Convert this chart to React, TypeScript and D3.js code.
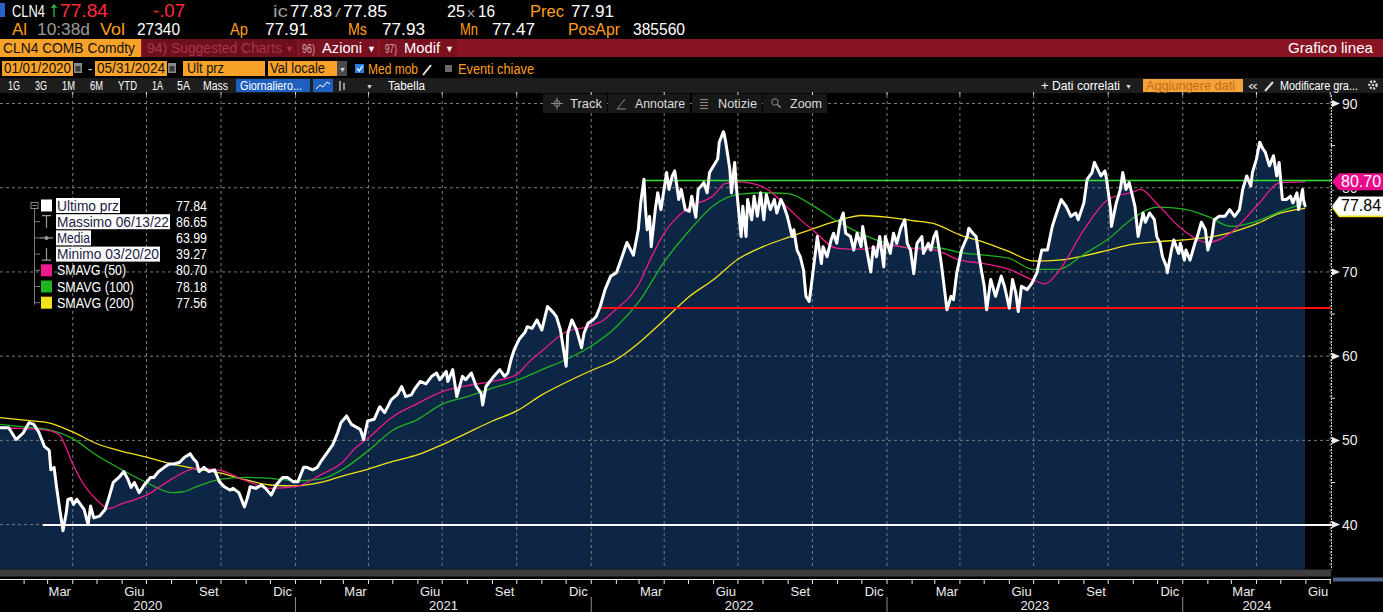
import React, { useEffect } from 'react'
import * as d3 from 'd3'

const WIDTH = 1383
const HEIGHT = 612
const PLOT_TOP = 95
const PLOT_BOTTOM = 569.5
const PLOT_RIGHT = 1331
const UI_FONT = '"Liberation Sans", Arial, sans-serif'

// daily closes, CLN4 Comdty (sampled)
const prices2020: [string, number][] = [
  ['2020-01-02', 51.5], ['2020-01-13', 51.5], ['2020-01-22', 50.1], ['2020-01-31', 50.9],
  ['2020-02-07', 52.1], ['2020-02-13', 51.9], ['2020-02-19', 51.0], ['2020-02-26', 49.3],
  ['2020-03-03', 48.8], ['2020-03-05', 46.5], ['2020-03-09', 46.8], ['2020-03-12', 44.5],
  ['2020-03-16', 41.8], ['2020-03-20', 39.27], ['2020-03-24', 41.4], ['2020-03-26', 43.0],
  ['2020-03-30', 43.1], ['2020-04-02', 42.4], ['2020-04-06', 43.0], ['2020-04-09', 42.6],
  ['2020-04-15', 41.8], ['2020-04-20', 40.0], ['2020-04-23', 42.2], ['2020-04-27', 40.8],
  ['2020-05-04', 41.0], ['2020-05-11', 41.8], ['2020-05-15', 43.0], ['2020-05-21', 45.0],
  ['2020-05-28', 45.6], ['2020-06-03', 46.3], ['2020-06-08', 45.4], ['2020-06-12', 44.4],
  ['2020-06-16', 45.0], ['2020-06-22', 43.8], ['2020-06-29', 44.8], ['2020-07-06', 45.6],
  ['2020-07-10', 45.6], ['2020-07-16', 46.3], ['2020-07-23', 46.8], ['2020-07-29', 47.2],
  ['2020-08-04', 47.2], ['2020-08-11', 47.4], ['2020-08-17', 48.0], ['2020-08-24', 48.4],
  ['2020-08-28', 47.8], ['2020-09-01', 47.4], ['2020-09-04', 46.3], ['2020-09-10', 46.8],
  ['2020-09-16', 46.3], ['2020-09-23', 46.5], ['2020-09-29', 45.1], ['2020-10-05', 44.5],
  ['2020-10-12', 44.1], ['2020-10-16', 44.3], ['2020-10-23', 43.8], ['2020-10-30', 42.1],
  ['2020-11-03', 43.3], ['2020-11-06', 44.5], ['2020-11-13', 44.3], ['2020-11-20', 44.7],
  ['2020-11-25', 44.3], ['2020-12-02', 43.5], ['2020-12-08', 44.7], ['2020-12-16', 45.6],
  ['2020-12-22', 45.6], ['2020-12-29', 45.1],
]

const prices2021: [string, number][] = [
  ['2021-01-04', 45.1], ['2021-01-11', 46.8], ['2021-01-15', 46.8], ['2021-01-22', 46.5],
  ['2021-01-28', 46.8], ['2021-02-02', 47.6], ['2021-02-08', 48.4], ['2021-02-16', 49.5],
  ['2021-02-22', 50.9], ['2021-02-26', 52.1], ['2021-03-05', 52.9], ['2021-03-11', 51.9],
  ['2021-03-22', 51.3], ['2021-03-26', 50.1], ['2021-03-31', 52.3], ['2021-04-08', 52.5],
  ['2021-04-15', 54.0], ['2021-04-21', 53.3], ['2021-04-29', 54.8], ['2021-05-07', 55.5],
  ['2021-05-12', 56.4], ['2021-05-17', 55.2], ['2021-05-24', 55.4], ['2021-05-28', 56.1],
  ['2021-06-04', 57.0], ['2021-06-11', 56.7], ['2021-06-18', 57.6], ['2021-06-24', 58.0],
  ['2021-06-28', 57.2], ['2021-07-06', 58.2], ['2021-07-08', 57.0], ['2021-07-14', 58.4],
  ['2021-07-19', 55.2], ['2021-07-26', 57.6], ['2021-07-30', 57.2], ['2021-08-06', 58.0],
  ['2021-08-12', 56.4], ['2021-08-18', 55.6], ['2021-08-20', 54.2], ['2021-08-24', 56.4],
  ['2021-09-01', 57.4], ['2021-09-10', 58.4], ['2021-09-16', 57.6], ['2021-09-20', 58.0],
  ['2021-09-24', 59.6], ['2021-09-28', 60.8], ['2021-10-04', 62.0], ['2021-10-11', 62.8],
  ['2021-10-14', 63.5], ['2021-10-20', 63.3], ['2021-10-26', 64.3], ['2021-11-01', 63.1],
  ['2021-11-08', 65.9], ['2021-11-15', 65.2], ['2021-11-19', 64.7], ['2021-11-24', 63.1],
  ['2021-11-29', 60.0], ['2021-12-01', 58.8], ['2021-12-03', 62.7], ['2021-12-08', 64.3],
  ['2021-12-14', 63.1], ['2021-12-20', 61.0], ['2021-12-23', 62.7], ['2021-12-28', 63.9],
]

const prices2022: [string, number][] = [
  ['2022-01-03', 64.3], ['2022-01-07', 64.7], ['2022-01-12', 65.9], ['2022-01-18', 67.9],
  ['2022-01-25', 69.5], ['2022-02-01', 69.9], ['2022-02-08', 71.8], ['2022-02-14', 73.5],
  ['2022-02-22', 72.0], ['2022-02-28', 75.0], ['2022-03-03', 78.2], ['2022-03-07', 81.0],
  ['2022-03-09', 77.4], ['2022-03-11', 75.0], ['2022-03-14', 76.6], ['2022-03-16', 73.0],
  ['2022-03-21', 77.4], ['2022-03-24', 79.4], ['2022-03-28', 77.4], ['2022-04-04', 81.8],
  ['2022-04-07', 79.8], ['2022-04-11', 81.4], ['2022-04-14', 82.0], ['2022-04-19', 78.6],
  ['2022-04-22', 79.8], ['2022-04-27', 77.4], ['2022-05-02', 77.2], ['2022-05-05', 79.0],
  ['2022-05-10', 76.5], ['2022-05-13', 79.8], ['2022-05-20', 80.6], ['2022-05-24', 79.4],
  ['2022-05-27', 81.8], ['2022-06-01', 82.6], ['2022-06-06', 83.4], ['2022-06-08', 85.4],
  ['2022-06-13', 86.65], ['2022-06-14', 86.4], ['2022-06-16', 85.4], ['2022-06-21', 82.2],
  ['2022-06-23', 79.4], ['2022-06-27', 83.0], ['2022-06-29', 80.2], ['2022-07-05', 74.2],
  ['2022-07-07', 77.8], ['2022-07-11', 74.2], ['2022-07-13', 78.6], ['2022-07-18', 76.2],
  ['2022-07-21', 79.0], ['2022-07-25', 76.6], ['2022-07-29', 79.4], ['2022-08-02', 76.2],
  ['2022-08-05', 79.2], ['2022-08-10', 77.4], ['2022-08-15', 78.6], ['2022-08-18', 77.0],
  ['2022-08-23', 78.6], ['2022-08-26', 78.0], ['2022-08-31', 76.6], ['2022-09-06', 74.2],
  ['2022-09-08', 75.0], ['2022-09-12', 72.6], ['2022-09-16', 71.8], ['2022-09-20', 70.2],
  ['2022-09-23', 67.1], ['2022-09-27', 66.5], ['2022-09-30', 68.7], ['2022-10-05', 72.6],
  ['2022-10-07', 74.2], ['2022-10-12', 71.0], ['2022-10-14', 73.0], ['2022-10-19', 71.8],
  ['2022-10-24', 73.8], ['2022-10-27', 74.6], ['2022-10-31', 73.4], ['2022-11-04', 75.9],
  ['2022-11-08', 77.0], ['2022-11-11', 74.6], ['2022-11-17', 74.2], ['2022-11-21', 72.6],
  ['2022-11-25', 74.6], ['2022-11-30', 73.0], ['2022-12-02', 75.4], ['2022-12-07', 72.6],
  ['2022-12-12', 70.0], ['2022-12-15', 73.0], ['2022-12-19', 71.8], ['2022-12-23', 74.2],
  ['2022-12-28', 70.6], ['2022-12-30', 74.2],
]

const prices2023: [string, number][] = [
  ['2023-01-05', 72.2], ['2023-01-09', 74.6], ['2023-01-13', 73.4], ['2023-01-18', 75.2],
  ['2023-01-23', 76.2], ['2023-01-26', 73.4], ['2023-01-30', 72.6], ['2023-02-03', 69.8],
  ['2023-02-07', 73.4], ['2023-02-13', 74.2], ['2023-02-15', 72.2], ['2023-02-21', 73.4],
  ['2023-02-24', 72.6], ['2023-02-28', 74.2], ['2023-03-03', 74.8], ['2023-03-09', 71.0],
  ['2023-03-13', 67.9], ['2023-03-16', 65.5], ['2023-03-21', 67.1], ['2023-03-24', 66.7],
  ['2023-03-28', 69.8], ['2023-04-03', 72.6], ['2023-04-10', 74.2], ['2023-04-12', 75.2],
  ['2023-04-17', 74.6], ['2023-04-21', 74.2], ['2023-04-25', 71.6], ['2023-05-01', 68.3],
  ['2023-05-04', 65.5], ['2023-05-09', 69.1], ['2023-05-15', 67.1], ['2023-05-22', 69.5],
  ['2023-05-26', 68.3], ['2023-06-01', 65.7], ['2023-06-05', 69.1], ['2023-06-09', 67.5],
  ['2023-06-12', 65.3], ['2023-06-16', 68.3], ['2023-06-23', 67.9], ['2023-06-29', 68.7],
  ['2023-07-05', 69.9], ['2023-07-11', 72.6], ['2023-07-18', 72.6], ['2023-07-24', 75.4],
  ['2023-07-28', 76.6], ['2023-08-04', 78.6], ['2023-08-10', 77.8], ['2023-08-16', 76.6],
  ['2023-08-22', 77.0], ['2023-08-25', 76.2], ['2023-09-01', 78.2], ['2023-09-05', 81.0],
  ['2023-09-11', 81.8], ['2023-09-14', 83.0], ['2023-09-18', 82.2], ['2023-09-22', 81.4],
  ['2023-09-27', 82.0], ['2023-09-29', 81.0], ['2023-10-04', 77.4], ['2023-10-05', 75.4],
  ['2023-10-11', 78.2], ['2023-10-16', 79.8], ['2023-10-19', 81.8], ['2023-10-23', 79.8],
  ['2023-10-27', 80.6], ['2023-10-31', 79.0], ['2023-11-03', 77.8], ['2023-11-07', 74.2],
  ['2023-11-13', 77.0], ['2023-11-16', 75.9], ['2023-11-21', 77.0], ['2023-11-27', 76.2],
  ['2023-11-30', 74.2], ['2023-12-04', 73.4], ['2023-12-07', 71.8], ['2023-12-12', 70.6],
  ['2023-12-13', 69.9], ['2023-12-18', 72.6], ['2023-12-21', 73.8], ['2023-12-27', 72.2],
  ['2023-12-29', 73.4],
]

const prices2024: [string, number][] = [
  ['2024-01-03', 71.4], ['2024-01-05', 72.6], ['2024-01-10', 71.4], ['2024-01-16', 73.4],
  ['2024-01-19', 74.2], ['2024-01-24', 75.9], ['2024-01-29', 75.0], ['2024-02-01', 72.6],
  ['2024-02-06', 74.2], ['2024-02-09', 76.2], ['2024-02-15', 76.6], ['2024-02-22', 76.6],
  ['2024-02-28', 77.4], ['2024-03-05', 76.6], ['2024-03-11', 77.4], ['2024-03-15', 79.8],
  ['2024-03-20', 81.4], ['2024-03-25', 80.2], ['2024-03-27', 81.8], ['2024-04-01', 83.4],
  ['2024-04-05', 85.4], ['2024-04-09', 84.6], ['2024-04-12', 84.2], ['2024-04-17', 82.6],
  ['2024-04-22', 83.8], ['2024-04-26', 81.4], ['2024-04-29', 83.0], ['2024-05-03', 78.6],
  ['2024-05-08', 78.6], ['2024-05-13', 79.0], ['2024-05-16', 78.2], ['2024-05-21', 79.4],
  ['2024-05-23', 77.4], ['2024-05-28', 79.8], ['2024-05-29', 78.6], ['2024-05-31', 77.84],
]

// simple moving averages
const sma50: [string, number][] = [
  ['2020-01-02', 51.5], ['2020-02-01', 51.4], ['2020-03-01', 51.2], ['2020-03-15', 50.7],
  ['2020-04-01', 47.2], ['2020-04-15', 44.7], ['2020-05-01', 42.9], ['2020-05-15', 41.9],
  ['2020-06-01', 42.5], ['2020-06-15', 42.9], ['2020-07-01', 43.5], ['2020-08-01', 45.4],
  ['2020-09-01', 46.7], ['2020-10-01', 46.4], ['2020-11-01', 45.2], ['2020-12-01', 44.3],
  ['2021-01-01', 44.5], ['2021-02-01', 45.9], ['2021-03-01', 47.5], ['2021-03-15', 49.0],
  ['2021-04-01', 50.3], ['2021-05-01', 52.8], ['2021-06-01', 54.4], ['2021-07-01', 55.8],
  ['2021-08-01', 56.5], ['2021-09-01', 57.0], ['2021-10-01', 57.8], ['2021-10-15', 59.2],
  ['2021-11-01', 60.6], ['2021-12-01', 62.9], ['2022-01-01', 63.6], ['2022-01-15', 64.2],
  ['2022-02-01', 65.6], ['2022-02-15', 66.8], ['2022-03-01', 68.6], ['2022-03-15', 71.5],
  ['2022-04-01', 74.6], ['2022-05-01', 77.6], ['2022-06-01', 79.1], ['2022-06-15', 80.5],
  ['2022-07-01', 80.7], ['2022-08-01', 80.1], ['2022-09-01', 77.6], ['2022-09-15', 76.3],
  ['2022-10-01', 75.0], ['2022-11-01', 72.8], ['2022-12-01', 72.7], ['2023-01-01', 73.2],
  ['2023-02-01', 72.8], ['2023-03-01', 72.6], ['2023-04-01', 71.4], ['2023-05-01', 71.0],
  ['2023-06-01', 70.3], ['2023-07-01', 69.0], ['2023-07-15', 68.6], ['2023-08-01', 70.1],
  ['2023-09-01', 75.0], ['2023-10-01', 78.6], ['2023-11-01', 79.5], ['2023-11-10', 79.8],
  ['2023-12-01', 78.0], ['2024-01-01', 75.0], ['2024-02-01', 73.5], ['2024-03-01', 74.7],
  ['2024-04-01', 77.8], ['2024-05-01', 80.6], ['2024-05-31', 80.7],
]

const sma100: [string, number][] = [
  ['2020-01-02', 51.9], ['2020-02-01', 51.6], ['2020-03-01', 51.3], ['2020-04-01', 50.2],
  ['2020-05-01', 48.2], ['2020-06-01', 46.5], ['2020-07-01', 45.0], ['2020-08-01', 43.8],
  ['2020-08-15', 43.9], ['2020-09-01', 44.5], ['2020-10-01', 45.4], ['2020-11-01', 45.6],
  ['2020-12-01', 45.5], ['2021-01-01', 45.2], ['2021-02-01', 45.4], ['2021-03-01', 46.6],
  ['2021-04-01', 48.8], ['2021-05-01', 51.2], ['2021-06-01', 52.5], ['2021-07-01', 54.3],
  ['2021-08-01', 55.2], ['2021-09-01', 56.2], ['2021-10-01', 57.1], ['2021-11-01', 58.4],
  ['2021-12-01', 59.6], ['2022-01-01', 61.2], ['2022-02-01', 63.5], ['2022-03-01', 66.5],
  ['2022-04-01', 71.2], ['2022-05-01', 74.8], ['2022-06-01', 77.9], ['2022-07-01', 79.2],
  ['2022-08-01', 79.4], ['2022-09-01', 79.3], ['2022-10-01', 77.9], ['2022-11-01', 76.0],
  ['2022-12-01', 74.5], ['2023-01-01', 73.4], ['2023-02-01', 72.8], ['2023-03-01', 72.9],
  ['2023-04-01', 72.3], ['2023-05-01', 72.0], ['2023-06-01', 71.6], ['2023-07-01', 70.3],
  ['2023-08-01', 70.3], ['2023-09-01', 72.1], ['2023-10-01', 73.9], ['2023-11-01', 76.4],
  ['2023-12-01', 77.7], ['2024-01-01', 77.5], ['2024-02-01', 76.6], ['2024-03-01', 75.4],
  ['2024-04-01', 76.0], ['2024-05-01', 77.2], ['2024-05-31', 78.18],
]

const sma200: [string, number][] = [
  ['2020-01-02', 52.7], ['2020-02-01', 52.4], ['2020-03-01', 52.1], ['2020-04-01', 51.0],
  ['2020-05-01', 49.6], ['2020-06-01', 48.7], ['2020-07-01', 48.0], ['2020-08-01', 47.2],
  ['2020-09-01', 46.6], ['2020-10-01', 46.1], ['2020-11-01', 45.3], ['2020-12-01', 44.7],
  ['2021-01-01', 44.6], ['2021-02-01', 45.0], ['2021-03-01', 45.8], ['2021-04-01', 46.6],
  ['2021-05-01', 47.5], ['2021-06-01', 48.3], ['2021-07-01', 49.5], ['2021-08-01', 50.9],
  ['2021-09-01', 52.3], ['2021-10-01', 53.5], ['2021-11-01', 55.4], ['2021-12-01', 56.9],
  ['2022-01-01', 58.3], ['2022-02-01', 59.6], ['2022-03-01', 61.6], ['2022-04-01', 64.3],
  ['2022-05-01', 67.0], ['2022-06-01', 69.1], ['2022-07-01', 71.5], ['2022-08-01', 73.0],
  ['2022-09-01', 74.1], ['2022-10-01', 75.1], ['2022-11-01', 76.1], ['2022-12-01', 76.7],
  ['2023-01-01', 76.5], ['2023-02-01', 76.1], ['2023-03-01', 75.7], ['2023-04-01', 74.4],
  ['2023-05-01', 73.5], ['2023-06-01', 72.4], ['2023-07-01', 71.3], ['2023-08-01', 71.4],
  ['2023-09-01', 71.9], ['2023-10-01', 72.6], ['2023-11-01', 73.3], ['2023-12-01', 73.6],
  ['2024-01-01', 73.8], ['2024-02-01', 74.1], ['2024-03-01', 74.7], ['2024-04-01', 75.7],
  ['2024-05-01', 77.0], ['2024-05-31', 77.56],
]

// user drawn horizontal levels: from date, level, colour, width
const levelLines: [string, number, string, number][] = [
  ['2020-02-24', 40, '#ffffff', 2],
  ['2022-01-13', 65.75, '#ff1010', 2],
  ['2022-03-06', 80.9, '#33e633', 1.5],
]

const yTicks = [40, 50, 60, 70, 80, 90]
const yMinorTicks = [45, 55, 65, 75, 85]
const monthNames = ['Gen', 'Feb', 'Mar', 'Apr', 'Mag', 'Giu', 'Lug', 'Ago', 'Set', 'Ott', 'Nov', 'Dic']
const labelledMonths = [2, 5, 8, 11]
const years = [2020, 2021, 2022, 2023, 2024]

const legendLabels = ['Ultimo prz', 'Massimo 06/13/22', 'Media', 'Minimo 03/20/20', 'SMAVG (50)', 'SMAVG (100)', 'SMAVG (200)']
const legendValues = ['77.84', '86.65', '63.99', '39.27', '80.70', '78.18', '77.56']
const legendLabelWidths = [62, 112, 33, 102, 69, 77, 77]
const legendLabelBoxes = [64, 114, 35, 104]

const COLORS = {
  price: '#ffffff',
  area: '#0e2645',
  sma50: '#ee1a8c',
  sma100: '#1fb41f',
  sma200: '#f2e21c',
  grid: '#7c7c7c',
  orange: '#f9a22a',
  orangeText: '#ff9f1c',
  barRed: '#8a1424',
}

const parseDay = d3.timeParse('%Y-%m-%d')
type Pt = { date: Date; value: number }
const toPoints = (rows: [string, number][]): Pt[] =>
  rows.map(([d, v]) => ({ date: parseDay(d) as Date, value: v }))

const T = ({ x, y, w, size = 13, fill = '#fff', anchor, children, family = UI_FONT }: any) => (
  <text
    x={x}
    y={y}
    fontSize={size}
    fill={fill}
    fontFamily={family}
    textAnchor={anchor}
    textLength={w}
    lengthAdjust={w ? 'spacingAndGlyphs' : undefined}
  >
    {children}
  </text>
)

const Header = () => (
  <g>
    {/* quote lines */}
    <rect x={0} y={3} width={5} height={14} fill="#2a62c9" />
    <T x={12} y={17} w={33} size={17}>CLN4</T>
    <path d="M54,17 V5 M51.5,8 L54,5 L56.5,8" stroke="#27c24a" strokeWidth={1.3} fill="none" />
    <T x={60} y={17} w={48} size={18} fill="#ff2a3a">77.84</T>
    <T x={153} y={17} w={32} size={18} fill="#ff2a3a">-.07</T>
    <T x={273} y={17} w={15} size={17} fill="#9c9c9c">ic</T>
    <T x={290} y={17} w={42} size={17}>77.83</T>
    <T x={335} y={17} w={6} size={13} fill="#9c9c9c">/</T>
    <T x={343} y={17} w={44} size={17}>77.85</T>
    <T x={447} y={17} w={18} size={17}>25</T>
    <T x={467} y={17} w={8} size={13} fill="#9c9c9c">x</T>
    <T x={478} y={17} w={17} size={17}>16</T>
    <T x={530} y={17} w={34} size={17} fill={COLORS.orangeText}>Prec</T>
    <T x={571} y={17} w={43} size={17}>77.91</T>

    <T x={12} y={35} w={15} size={17} fill={COLORS.orangeText}>Al</T>
    <T x={37} y={35} w={53} size={17} fill="#9c9c9c">10:38d</T>
    <T x={100} y={35} w={25} size={17} fill={COLORS.orangeText}>Vol</T>
    <T x={137} y={35} w={43} size={17}>27340</T>
    <T x={230} y={35} w={18} size={17} fill={COLORS.orangeText}>Ap</T>
    <T x={265} y={35} w={43} size={17}>77.91</T>
    <T x={348} y={35} w={19} size={17} fill={COLORS.orangeText}>Ms</T>
    <T x={382} y={35} w={43} size={17}>77.93</T>
    <T x={460} y={35} w={18} size={17} fill={COLORS.orangeText}>Mn</T>
    <T x={492} y={35} w={43} size={17}>77.47</T>
    <T x={568} y={35} w={52} size={17} fill={COLORS.orangeText}>PosApr</T>
    <T x={633} y={35} w={52} size={17}>385560</T>

    {/* security / actions bar */}
    <rect x={0} y={39} width={WIDTH} height={18} fill={COLORS.barRed} />
    <rect x={0} y={39} width={141} height={18} fill={COLORS.orange} />
    <T x={3} y={53} w={132} size={15} fill="#111">CLN4 COMB Comdty</T>
    <rect x={143} y={39} width={154} height={18} fill="#6e0f1c" />
    <T x={147} y={53} w={135} size={14} fill="#a93646">94) Suggested Charts</T>
    <T x={285} y={52} size={9} fill="#a93646">▼</T>
    <rect x={299} y={39} width={79} height={18} fill="#7a1120" />
    <T x={302} y={53} w={13} size={12} fill="#d2a5ad">96)</T>
    <T x={322} y={53} w={40} size={15}>Azioni</T>
    <T x={367} y={52} size={9}>▼</T>
    <rect x={380} y={39} width={77} height={18} fill="#7a1120" />
    <T x={385} y={53} w={12} size={12} fill="#d2a5ad">97)</T>
    <T x={404} y={53} w={36} size={15}>Modif</T>
    <T x={445} y={52} size={9}>▼</T>
    <T x={1373} y={53} w={85} size={15} anchor="end">Grafico linea</T>

    {/* range / field selectors */}
    <rect x={2} y={61} width={71} height={15} fill={COLORS.orange} />
    <T x={4} y={73} w={67} size={14} fill="#111">01/01/2020</T>
    <rect x={74} y={63} width={8} height={10} fill="#8a8a8a" />
    <rect x={75.5} y={66} width={5} height={5.5} fill="#3a3a3a" />
    <T x={88} y={73} size={13} fill="#dcdcdc">-</T>
    <rect x={95} y={61} width={72} height={15} fill={COLORS.orange} />
    <T x={97} y={73} w={68} size={14} fill="#111">05/31/2024</T>
    <rect x={168} y={63} width={8} height={10} fill="#8a8a8a" />
    <rect x={169.5} y={66} width={5} height={5.5} fill="#3a3a3a" />
    <rect x={183} y={61} width={82} height={15} fill={COLORS.orange} />
    <T x={187} y={73} w={37} size={14} fill="#111">Ult prz</T>
    <rect x={268} y={61} width={69} height={15} fill={COLORS.orange} />
    <T x={270} y={73} w={55} size={14} fill="#111">Val locale</T>
    <rect x={337} y={61} width={10} height={15} fill="#4a4a4a" />
    <T x={339} y={72} size={7} fill="#ddd">▼</T>
    <rect x={355} y={64} width={9} height={9} fill="#2b7de0" />
    <path d="M357,68.5 L359.2,71 L362.5,65.8" stroke="#fff" strokeWidth={1.3} fill="none" />
    <T x={368} y={74} w={50} size={14} fill={COLORS.orangeText}>Med mob</T>
    <path d="M423,75 L431,65" stroke="#e8e8e8" strokeWidth={2} />
    <rect x={445} y={65} width={7} height={7} fill="#6a6a6a" />
    <T x={458} y={74} w={76} size={14} fill={COLORS.orangeText}>Eventi chiave</T>

    {/* period / tools bar */}
    <rect x={0} y={78} width={WIDTH} height={15} fill="#1d1d1d" />
    <T x={8} y={90} w={12} size={12}>1G</T>
    <T x={35} y={90} w={12} size={12}>3G</T>
    <T x={62} y={90} w={13} size={12}>1M</T>
    <T x={90} y={90} w={13} size={12}>6M</T>
    <T x={118} y={90} w={19} size={12}>YTD</T>
    <T x={152} y={90} w={11} size={12}>1A</T>
    <T x={177} y={90} w={13} size={12}>5A</T>
    <T x={203} y={90} w={25} size={12}>Mass</T>
    <rect x={236} y={79} width={74} height={13} fill="#1f5fbf" />
    <T x={240} y={90} w={62} size={12}>Giornaliero...</T>
    <rect x={313} y={79} width={20} height={13} fill="#1f5fbf" />
    <path d="M316,89 L320,85 L323,87 L327,82 L330,84" stroke="#fff" strokeWidth={1} fill="none" />
    <path d="M340,81 V91 M344,83 V90" stroke="#bdbdbd" strokeWidth={1.5} />
    <T x={366} y={89} size={7} fill="#ddd">▼</T>
    <T x={388} y={90} w={37} size={12}>Tabella</T>
    <T x={1041} y={90} size={13}>+</T>
    <T x={1052} y={90} w={68} size={12}>Dati correlati</T>
    <T x={1125} y={89} size={7} fill="#ddd">▼</T>
    <rect x={1143} y={79} width={100} height={13} fill="#f3a33a" />
    <T x={1146} y={90} w={89} size={12} fill="#c26d12">Aggiungere dati</T>
    <T x={1248} y={90} w={10} size={13} fill="#ddd">«</T>
    <path d="M1265,91 L1273,82" stroke="#e0e0e0" strokeWidth={2} />
    <T x={1280} y={90} w={78} size={12}>Modificare gra...</T>
    <circle cx={1373} cy={85} r={3.6} fill="none" stroke="#d8d8d8" strokeWidth={2.4} strokeDasharray="2,1.4" />
    <circle cx={1373} cy={85} r={1.2} fill="#d8d8d8" />
  </g>
)

const ChartTools = () => {
  const buttons: [number, number, string, number, number][] = [
    [543, 64, 'Track', 570, 32],
    [608, 82, 'Annotare', 635, 50],
    [692, 70, 'Notizie', 718, 39],
    [763, 64, 'Zoom', 790, 32],
  ]
  return (
    <g>
      {buttons.map(([bx, bw, label, tx, tw]) => (
        <g key={label}>
          <rect x={bx} y={94} width={bw} height={19} fill="#181818" />
          <T x={tx} y={108} w={tw} size={13} fill="#dcdcdc">{label}</T>
        </g>
      ))}
      <g stroke="#8c8c8c" strokeWidth={1} fill="none">
        <circle cx={557} cy={103.5} r={3} />
        <path d="M551,103.5 H563 M557,97.5 V109.5" />
        <path d="M617,109 L625,99 M617,109 H626" />
        <path d="M700,99.5 H708 M700,102.5 H708 M700,105.5 H708 M700,108.5 H708" />
        <circle cx={775} cy={102} r={3.2} />
        <path d="M777.5,104.5 L780.5,107.5" strokeWidth={1.6} />
      </g>
    </g>
  )
}

const Legend = () => {
  const rowY = (i: number) => 205.5 + i * 16.2
  const swatch = [null, null, null, null, COLORS.sma50, COLORS.sma100, COLORS.sma200]
  return (
    <g fontFamily={UI_FONT} fontSize={14}>
      <path d={`M34.5,${rowY(0) + 3} V${rowY(6) + 2}`} stroke="#7a7a7a" strokeWidth={1} />
      <rect x={31} y={rowY(0) - 3} width={7} height={6} fill="#000" stroke="#8a8a8a" strokeWidth={1} />
      <path d={`M32.5,${rowY(0)} H36.5`} stroke="#8a8a8a" />
      {legendLabels.map((label, i) => {
        const cy = rowY(i)
        return (
          <g key={label}>
            {i > 0 && <path d={`M34.5,${cy} H40`} stroke="#7a7a7a" />}
            {i === 0 && <rect x={41} y={cy - 6} width={11} height={12} fill="#ffffff" />}
            {i === 1 && <path d={`M42,${cy - 6} H51 M46.5,${cy - 6} V${cy + 6}`} stroke="#9a9a9a" strokeWidth={1.2} />}
            {i === 2 && (
              <g>
                <path d={`M40,${cy} H53`} stroke="#9a9a9a" strokeWidth={1.2} />
                <circle cx={46.5} cy={cy} r={2} fill="#9a9a9a" />
              </g>
            )}
            {i === 3 && <path d={`M42,${cy + 6} H51 M46.5,${cy - 6} V${cy + 6}`} stroke="#9a9a9a" strokeWidth={1.2} />}
            {swatch[i] && <rect x={41} y={cy - 6} width={11} height={12} fill={swatch[i] as string} />}
            {i < 4 && <rect x={56} y={cy - 7.5} width={legendLabelBoxes[i]} height={15} fill="#ffffff" />}
            <text
              x={57}
              y={cy + 5}
              fill={i < 4 ? '#1d1a45' : '#ffffff'}
              textLength={legendLabelWidths[i]}
              lengthAdjust="spacingAndGlyphs"
            >
              {label}
            </text>
            <text x={207} y={cy + 5} fill="#ffffff" textAnchor="end" textLength={31} lengthAdjust="spacingAndGlyphs">
              {legendValues[i]}
            </text>
          </g>
        )
      })}
    </g>
  )
}

export default function App() {
  useEffect(() => {
    document.body.style.margin = '0'
    document.body.style.background = '#000'
  }, [])

  const prices = [prices2020, prices2021, prices2022, prices2023, prices2024].flatMap(toPoints)
  const ma50 = toPoints(sma50)
  const ma100 = toPoints(sma100)
  const ma200 = toPoints(sma200)

  const x = d3.scaleTime().domain([new Date(2020, 0, 1), new Date(2024, 6, 2)]).range([-1, PLOT_RIGHT])
  const y = d3.scaleLinear().domain([40, 90]).range([524.6, 103.5])

  const priceLine = d3.line<Pt>().x(d => x(d.date)).y(d => y(d.value))
  const priceArea = d3.area<Pt>().x(d => x(d.date)).y0(PLOT_BOTTOM).y1(d => y(d.value))
  const smooth = d3.line<Pt>().x(d => x(d.date)).y(d => y(d.value)).curve(d3.curveMonotoneX)

  const quarters = d3.timeMonth.every(3)!.range(new Date(2020, 3, 1), new Date(2024, 6, 2))
  const months = d3.timeMonth.range(new Date(2020, 1, 1), new Date(2024, 6, 2))
  const labelMonths = months.filter(m => labelledMonths.includes(m.getMonth()))

  const last = prices[prices.length - 1]
  const lastMa50 = ma50[ma50.length - 1]
  const lastMa200 = ma200[ma200.length - 1]

  const tag = (cy: number, h: number) =>
    `M${PLOT_RIGHT + 1},${cy} L${PLOT_RIGHT + 8},${cy - h / 2} H${WIDTH} V${cy + h / 2} H${PLOT_RIGHT + 8} Z`

  return (
    <svg width={WIDTH} height={HEIGHT} style={{ display: 'block', background: '#000' }}>
      <defs>
        <clipPath id="plot">
          <rect x={0} y={PLOT_TOP} width={PLOT_RIGHT} height={PLOT_BOTTOM - PLOT_TOP} />
        </clipPath>
        {/* only the lower sliver of the 80 label peeks out below the average tag */}
        <clipPath id="under-tag">
          <rect x={PLOT_RIGHT} y={y(80.7) + 8.5} width={60} height={12} />
        </clipPath>
      </defs>
      <rect width={WIDTH} height={HEIGHT} fill="#000" />

      <g clipPath="url(#plot)">
        <path d={priceArea(prices) ?? ''} fill={COLORS.area} />

        {yTicks.map(t => (
          <line key={t} x1={0} x2={PLOT_RIGHT} y1={y(t)} y2={y(t)} stroke={COLORS.grid} strokeDasharray="3,3" />
        ))}
        {quarters.map(q => (
          <line key={+q} x1={x(q)} x2={x(q)} y1={PLOT_TOP} y2={PLOT_BOTTOM} stroke={COLORS.grid} strokeDasharray="3,3" />
        ))}

        <path d={smooth(ma200) ?? ''} fill="none" stroke={COLORS.sma200} strokeWidth={1.3} />
        <path d={smooth(ma100) ?? ''} fill="none" stroke={COLORS.sma100} strokeWidth={1.3} />
        <path d={smooth(ma50) ?? ''} fill="none" stroke={COLORS.sma50} strokeWidth={1.3} />

        {levelLines.map(([from, level, color, w]) => {
          const ly = Math.round(y(level)) + (w === 2 ? 0 : 0.5)
          return (
            <line
              key={level}
              x1={x(parseDay(from) as Date)}
              x2={PLOT_RIGHT}
              y1={ly}
              y2={ly}
              stroke={color}
              strokeWidth={w}
            />
          )
        })}

        <path
          d={priceLine(prices) ?? ''}
          fill="none"
          stroke={COLORS.price}
          strokeWidth={3}
          strokeLinejoin="round"
          strokeLinecap="round"
        />
      </g>

      <Header />
      <ChartTools />
      <Legend />

      {/* top ticks at quarter starts */}
      {quarters.map(q => (
        <line key={'t' + +q} x1={x(q)} x2={x(q)} y1={92} y2={95} stroke="#dddddd" />
      ))}

      {/* right value axis */}
      <line x1={PLOT_RIGHT + 0.5} x2={PLOT_RIGHT + 0.5} y1={PLOT_TOP} y2={PLOT_BOTTOM} stroke="#d0d0d0" strokeDasharray="2,1" />
      {yMinorTicks.map(t => (
        <line key={t} x1={PLOT_RIGHT} x2={PLOT_RIGHT + 4} y1={y(t)} y2={y(t)} stroke="#e0e0e0" />
      ))}
      {yTicks.map(t => (
        <g key={t} clipPath={t === 80 ? 'url(#under-tag)' : undefined}>
          <path d={`M${PLOT_RIGHT + 1},${y(t) - 3.5} L${PLOT_RIGHT + 9},${y(t)} L${PLOT_RIGHT + 1},${y(t) + 3.5} Z`} fill="#ededed" />
          <text x={PLOT_RIGHT + 11} y={y(t) + 5} fill="#ededed" fontSize={14} fontFamily={UI_FONT}>{t}</text>
        </g>
      ))}

      {/* last value tags */}
      <path d={tag(y(lastMa200.value), 18)} fill={COLORS.sma200} />
      <path d={tag(y(last.value), 19)} fill="#ffffff" />
      <text x={PLOT_RIGHT + 10} y={y(last.value) + 5.5} fontSize={16} fontFamily={UI_FONT} fill="#000">
        {last.value.toFixed(2)}
      </text>
      <path d={tag(y(lastMa50.value), 17)} fill="#ea0b8c" />
      <text x={PLOT_RIGHT + 10} y={y(lastMa50.value) + 5.5} fontSize={16} fontFamily={UI_FONT} fill="#ffffff">
        {lastMa50.value.toFixed(2)}
      </text>

      {/* scroll strip */}
      <rect x={0} y={PLOT_BOTTOM} width={PLOT_RIGHT} height={7} fill="#3e3e3e" />
      <rect x={PLOT_RIGHT + 2} y={PLOT_BOTTOM + 8} width={WIDTH - PLOT_RIGHT - 2} height={4} fill="#4a6284" />
      <line x1={0} x2={PLOT_RIGHT} y1={579.5} y2={579.5} stroke="#f0f0f0" strokeWidth={1.2} />

      {/* time axis */}
      {months.map(m => (
        <line key={+m} x1={x(m)} x2={x(m)} y1={580} y2={584} stroke="#e8e8e8" />
      ))}
      {labelMonths.map(m => (
        <text
          key={'l' + +m}
          x={x(new Date(m.getFullYear(), m.getMonth(), 16))}
          y={596}
          fill="#ececec"
          fontSize={13}
          fontFamily={UI_FONT}
          textAnchor="middle"
        >
          {monthNames[m.getMonth()]}
        </text>
      ))}
      {years.map(yr => {
        const x0 = Math.max(0, x(new Date(yr, 0, 1)))
        const x1 = Math.min(PLOT_RIGHT, x(new Date(yr + 1, 0, 1)))
        return (
          <g key={yr}>
            {yr > 2020 && <line x1={x0} x2={x0} y1={597} y2={612} stroke="#8a8a8a" />}
            <text x={(x0 + x1) / 2} y={610} fill="#ececec" fontSize={13} fontFamily={UI_FONT} textAnchor="middle">
              {yr}
            </text>
          </g>
        )
      })}
    </svg>
  )
}
